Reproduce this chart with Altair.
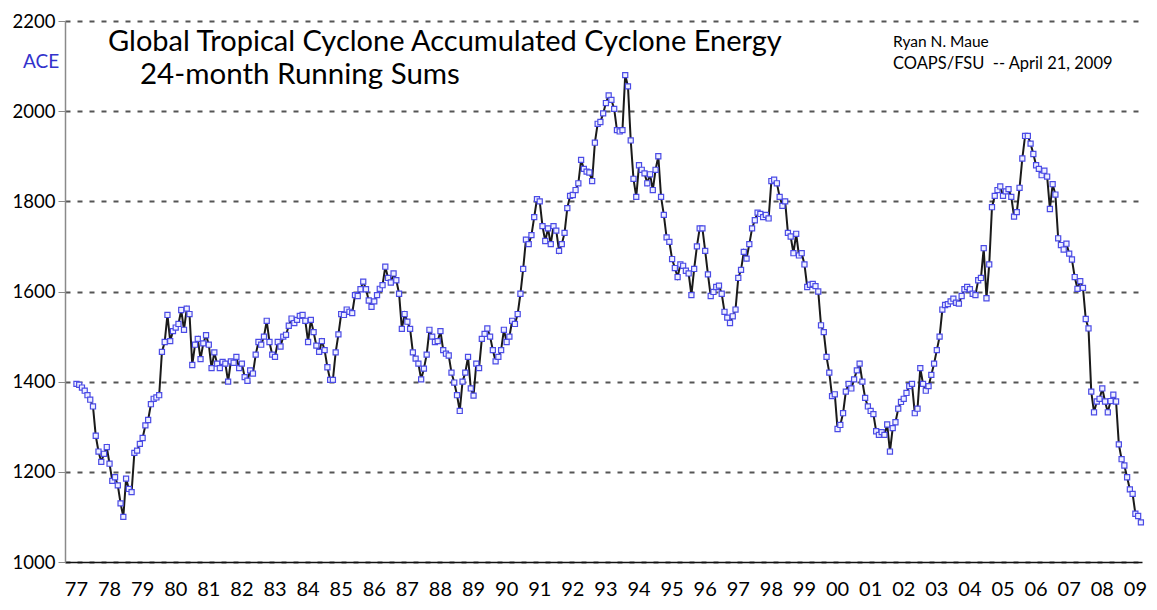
import altair as alt
import pandas as pd

# 24-month running sums of global ACE, monthly from Jan 1977
y1977 = [1395, 1393, 1387, 1380, 1370, 1360, 1345, 1280, 1245, 1222, 1240, 1255]
y1978 = [1218, 1180, 1188, 1170, 1130, 1100, 1185, 1162, 1155, 1242, 1247, 1262]
y1979 = [1275, 1303, 1315, 1350, 1362, 1365, 1370, 1466, 1488, 1548, 1490, 1512]
y1980 = [1520, 1528, 1559, 1515, 1562, 1550, 1437, 1482, 1495, 1450, 1485, 1503]
y1981 = [1482, 1430, 1465, 1440, 1430, 1444, 1440, 1400, 1445, 1442, 1455, 1430]
y1982 = [1440, 1410, 1402, 1425, 1418, 1460, 1488, 1482, 1500, 1535, 1488, 1460]
y1983 = [1455, 1488, 1478, 1500, 1504, 1524, 1540, 1530, 1537, 1546, 1548, 1535]
y1984 = [1488, 1537, 1510, 1480, 1466, 1490, 1470, 1432, 1404, 1404, 1465, 1505]
y1985 = [1550, 1548, 1560, 1555, 1552, 1592, 1590, 1605, 1622, 1605, 1580, 1566]
y1986 = [1578, 1592, 1606, 1614, 1655, 1630, 1620, 1640, 1625, 1595, 1517, 1550]
y1987 = [1533, 1517, 1465, 1451, 1440, 1405, 1429, 1460, 1515, 1500, 1488, 1490]
y1988 = [1512, 1470, 1462, 1458, 1420, 1398, 1370, 1335, 1400, 1420, 1455, 1385]
y1989 = [1369, 1440, 1430, 1495, 1506, 1518, 1500, 1470, 1445, 1455, 1470, 1515]
y1990 = [1488, 1500, 1535, 1528, 1550, 1595, 1650, 1715, 1705, 1725, 1765, 1805]
y1991 = [1800, 1745, 1712, 1740, 1705, 1745, 1735, 1690, 1705, 1730, 1785, 1812]
y1992 = [1814, 1825, 1840, 1892, 1872, 1866, 1864, 1845, 1930, 1972, 1976, 1995]
y1993 = [2018, 2035, 2025, 2005, 1958, 1955, 1958, 2080, 2055, 1935, 1850, 1810]
y1994 = [1880, 1870, 1862, 1840, 1860, 1825, 1870, 1900, 1810, 1770, 1720, 1710]
y1995 = [1672, 1652, 1632, 1660, 1657, 1646, 1640, 1592, 1650, 1700, 1740, 1740]
y1996 = [1690, 1638, 1590, 1599, 1610, 1613, 1595, 1555, 1542, 1530, 1545, 1560]
y1997 = [1630, 1648, 1688, 1673, 1705, 1740, 1758, 1775, 1772, 1765, 1770, 1762]
y1998 = [1845, 1848, 1840, 1810, 1790, 1800, 1730, 1722, 1685, 1728, 1680, 1685]
y1999 = [1660, 1610, 1615, 1617, 1612, 1600, 1525, 1510, 1455, 1420, 1368, 1372]
y2000 = [1295, 1304, 1330, 1378, 1395, 1385, 1405, 1425, 1440, 1400, 1364, 1345]
y2001 = [1335, 1328, 1290, 1282, 1288, 1282, 1305, 1245, 1297, 1310, 1340, 1355]
y2002 = [1362, 1375, 1390, 1395, 1330, 1340, 1430, 1395, 1380, 1390, 1415, 1440]
y2003 = [1470, 1500, 1560, 1570, 1572, 1578, 1584, 1575, 1573, 1590, 1605, 1610]
y2004 = [1605, 1595, 1592, 1625, 1630, 1696, 1585, 1660, 1787, 1812, 1825, 1833]
y2005 = [1812, 1822, 1827, 1810, 1766, 1776, 1830, 1895, 1945, 1945, 1928, 1905]
y2006 = [1880, 1872, 1858, 1868, 1855, 1783, 1838, 1815, 1718, 1703, 1693, 1706]
y2007 = [1684, 1671, 1632, 1606, 1623, 1608, 1539, 1518, 1378, 1332, 1356, 1362]
y2008 = [1385, 1356, 1332, 1357, 1371, 1356, 1261, 1228, 1214, 1188, 1161, 1151]
y2009 = [1107, 1102, 1088]

years = [y1977, y1978, y1979, y1980, y1981, y1982, y1983, y1984, y1985, y1986,
         y1987, y1988, y1989, y1990, y1991, y1992, y1993, y1994, y1995, y1996,
         y1997, y1998, y1999, y2000, y2001, y2002, y2003, y2004, y2005, y2006,
         y2007, y2008, y2009]
ace = [v for yr in years for v in yr]
month_index = list(range(len(ace)))

year_labels = ["77", "78", "79", "80", "81", "82", "83", "84", "85", "86", "87",
               "88", "89", "90", "91", "92", "93", "94", "95", "96", "97", "98",
               "99", "00", "01", "02", "03", "04", "05", "06", "07", "08", "09"]
tick_values = [12 * i for i in range(len(year_labels))]
y_ticks = [1000, 1200, 1400, 1600, 1800, 2000, 2200]

df = pd.DataFrame({"m": month_index, "ace": ace})
df_lab = pd.DataFrame({"m": tick_values, "lab": year_labels})

FONT = "Lato"
x_scale = alt.Scale(domain=[-4.15, 386.4], nice=False, zero=False)

x_enc = alt.X(
    "m:Q", scale=x_scale,
    axis=alt.Axis(values=tick_values, labels=False, grid=False, ticks=False,
                  tickSize=0, domainColor="#111111", domainWidth=1.5, title=None),
)
y_enc = alt.Y(
    "ace:Q",
    scale=alt.Scale(domain=[1000, 2200], nice=False, zero=False),
    axis=alt.Axis(values=y_ticks, format="d", grid=True, gridDash=[5, 7],
                  gridColor="#555555", gridWidth=2, domainColor="#8a8a8a",
                  domainWidth=1.5, tickColor="#8a8a8a", tickSize=7,
                  labelFontSize=18.5, labelFont=FONT, labelColor="#000000",
                  labelPadding=3, title=None),
)

base = alt.Chart(df)
line = base.mark_line(color="#1a1a1a", strokeWidth=2).encode(x=x_enc, y=y_enc)
pts = base.mark_point(shape="square", size=26, filled=True, fill="#eef0ff",
                      stroke="#4b4be6", strokeWidth=1.2, opacity=1).encode(x="m:Q", y="ace:Q")

xlabels = alt.Chart(df_lab).mark_text(
    align="center", baseline="alphabetic", font=FONT, fontSize=20, color="#000000"
).encode(x=alt.X("m:Q", scale=x_scale), y=alt.value(575), text="lab:N")

texts = pd.DataFrame({
    "t": ["Global Tropical Cyclone Accumulated Cyclone Energy", "24-month Running Sums",
          "Ryan N. Maue", "COAPS/FSU \u00a0-- April 21, 2009", "ACE"],
    "px": [43, 75, 828, 828, -42],
    "py": [21, 54, 21, 43, 41],
    "size": [29, 29.5, 15.5, 16.5, 19],
    "color": ["#000000", "#000000", "#000000", "#000000", "#3333cc"],
})

text_layers = []
for _, r in texts.iterrows():
    text_layers.append(
        alt.Chart(pd.DataFrame({"t": [r["t"]]})).mark_text(
            align="left", baseline="middle", font=FONT, fontSize=float(r["size"]),
            color=r["color"]
        ).encode(text="t:N", x=alt.value(int(r["px"])), y=alt.value(int(r["py"])))
    )

chart = alt.layer(line, pts, xlabels, *text_layers).properties(
    width=1077, height=541,
    autosize=alt.AutoSizeParams(type="none"),
    padding={"left": 57, "top": 13, "right": 7, "bottom": 40},
    background="white",
).configure_view(stroke=None)

chart.save("out.html", embed_options={"renderer": "svg", "actions": False})
